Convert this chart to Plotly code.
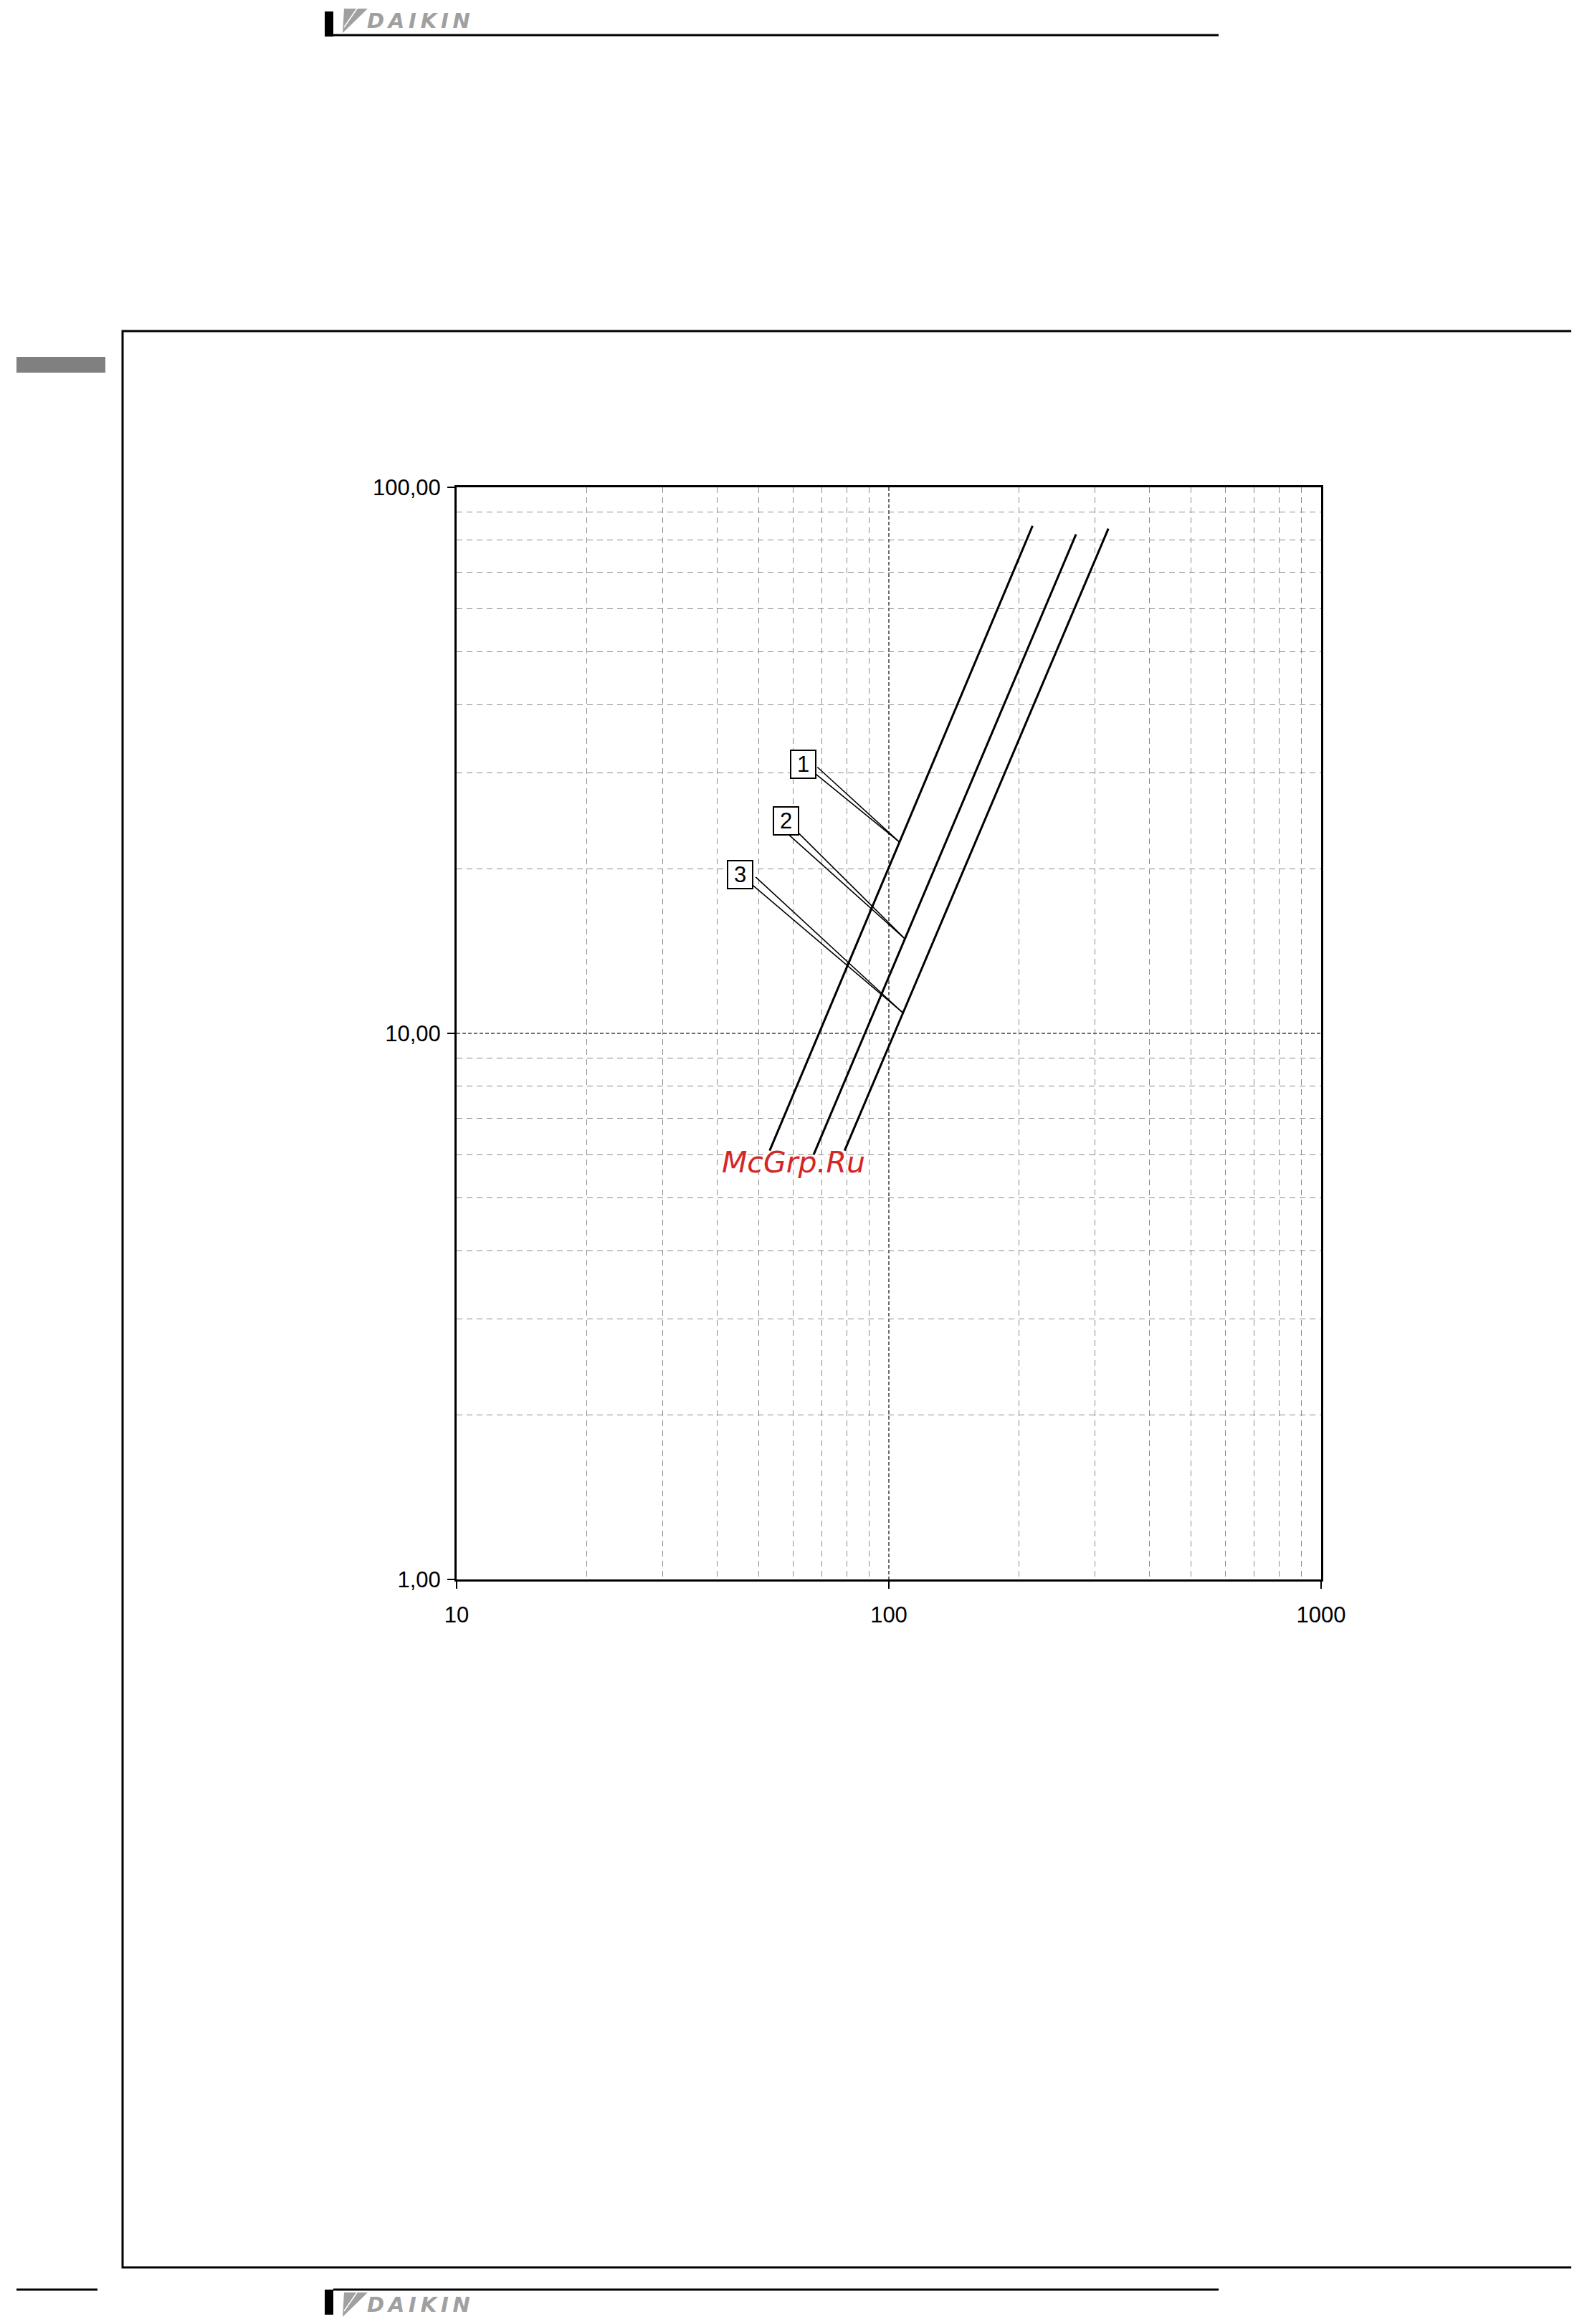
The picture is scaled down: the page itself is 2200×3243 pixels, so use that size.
import numpy as np
import plotly.graph_objects as go

# ---------------- data ----------------
series_names = ["1", "2", "3"]
flow_1 = [53, 215]
dp_1 = [6.1, 85]
flow_2 = [67, 271]
dp_2 = [6.0, 82]
flow_3 = [79, 322]
dp_3 = [6.1, 84]
label_dp = [22.4, 14.9, 10.9]          # where each callout touches its line

x_tick_vals = [10, 100, 1000]
x_tick_text = ["10", "100", "1000"]
y_tick_vals = [1, 10, 100]
y_tick_text = ["1,00", "10,00", "100,00"]
x_minor_vals = [2, 3, 4, 5, 6, 7, 8, 9] + [m * 10 for m in range(2, 10)] + [m * 100 for m in range(2, 10)]
y_minor_vals = [2, 3, 4, 5, 6, 7, 8, 9] + [m * 10 for m in range(2, 10)]

watermark = "McGrp.Ru"
brand = "DAIKIN"

# ---------------- page geometry ----------------
W, H = 2200, 3243
OFF = 8  # page body margin of the html document


def fx(p):
    return (p - OFF) / W


def fy(p):
    return 1 - (p - OFF) / H


X0, X1 = 637, 1843
Y0, Y1 = 680, 2204

fig = go.Figure()
flows = [flow_1, flow_2, flow_3]
dps = [dp_1, dp_2, dp_3]
for name, fl, dp in zip(series_names, flows, dps):
    fig.add_trace(go.Scatter(x=fl, y=dp, mode="lines", name=name,
                             line=dict(color="black", width=3), showlegend=False,
                             hoverinfo="skip"))

axis_font = dict(family="Liberation Sans, Arial", size=31, color="black")

fig.update_xaxes(type="log", range=[1, 3], domain=[fx(X0), fx(X1)], automargin=False,
                 showline=True, linecolor="black", linewidth=3, mirror=True,
                 ticks="outside", ticklen=10, tickwidth=2, tickcolor="black",
                 tickvals=x_tick_vals, ticktext=x_tick_text, tickfont=axis_font,
                 ticklabelstandoff=10,
                 showgrid=True, gridcolor="#6e6e6e", gridwidth=1.5, griddash="5px,3px",
                 zeroline=False,
                 minor=dict(tickvals=x_minor_vals, showgrid=True, gridcolor="#8a8a8a",
                            gridwidth=1.2, griddash="8px,6px", ticks=""))
fig.update_yaxes(type="log", range=[0, 2], domain=[fy(Y1), fy(Y0)], automargin=False,
                 showline=True, linecolor="black", linewidth=3, mirror=True,
                 ticks="outside", ticklen=10, tickwidth=2, tickcolor="black",
                 tickvals=y_tick_vals, ticktext=y_tick_text, tickfont=axis_font,
                 ticklabelstandoff=3,
                 showgrid=True, gridcolor="#6e6e6e", gridwidth=1.5, griddash="5px,3px",
                 zeroline=False,
                 minor=dict(tickvals=y_minor_vals, showgrid=True, gridcolor="#8a8a8a",
                            gridwidth=1.2, griddash="8px,6px", ticks=""))

# ---------------- callouts ----------------
box_offsets = [(-134, -109), (-166, -165), (-227, -193)]
second_offsets = [(-116, -106), (-164, -147), (-207, -191)]
annotations = []
for name, fl, dp, ly, (ax, ay), (ax2, ay2) in zip(series_names, flows, dps, label_dp,
                                                   box_offsets, second_offsets):
    lx = np.interp(np.log10(ly), np.log10(dp), np.log10(fl))
    lyl = np.log10(ly)
    annotations.append(dict(x=lx, y=lyl, xref="x", yref="y", text=name,
                            showarrow=True, arrowhead=0, arrowwidth=1.6, arrowcolor="black",
                            ax=ax, ay=ay, font=dict(family="Liberation Sans, Arial", size=31, color="black"),
                            bordercolor="black", borderwidth=2, borderpad=0, bgcolor="white",
                            width=33, height=37))
    annotations.append(dict(x=lx, y=lyl, xref="x", yref="y", text="",
                            showarrow=True, arrowhead=0, arrowwidth=1.6, arrowcolor="black",
                            ax=ax2, ay=ay2))

# watermark
annotations.append(dict(x=fx(1107), y=fy(1622), xref="paper", yref="paper", text=watermark,
                        showarrow=False, xanchor="center", yanchor="middle",
                        font=dict(family="DejaVu Sans", size=41, color="#d42626", style="italic")))

# brand texts (header and footer)
brand_spaced = "\u2009".join(brand)
for cy in (29, 3216):
    annotations.append(dict(x=fx(510), y=fy(cy), xref="paper", yref="paper",
                            text="<b>" + brand_spaced + "</b>",
                            showarrow=False, xanchor="left", yanchor="middle",
                            font=dict(family="DejaVu Sans", size=29, color="#a0a0a0",
                                      weight="bold", style="italic")))

# ---------------- page decorations ----------------
shapes = []


def rect(x0, y0, x1, y1, **kw):
    shapes.append(dict(type="rect", xref="paper", yref="paper",
                       x0=fx(x0), x1=fx(x1), y0=fy(y0), y1=fy(y1), **kw))


def hline(x0, x1, y, w=3, color="black"):
    shapes.append(dict(type="line", xref="paper", yref="paper",
                       x0=fx(x0), x1=fx(x1), y0=fy(y), y1=fy(y),
                       line=dict(color=color, width=w)))


def path(pts, fill):
    d = "M " + " L ".join(f"{fx(a):.6f},{fy(b):.6f}" for a, b in pts) + " Z"
    shapes.append(dict(type="path", xref="paper", yref="paper", path=d,
                       fillcolor=fill, line=dict(width=0)))


# grey tab at left
rect(23, 498, 147, 520, fillcolor="#808080", line=dict(width=0))
# big frame
rect(171, 462, 2197, 3164, line=dict(color="black", width=3), fillcolor="rgba(0,0,0,0)", layer="below")
# header
rect(453, 16, 465, 51, fillcolor="black", line=dict(width=0))
hline(465, 1700, 49)
path([(480, 12), (513, 12), (478, 46)], "#a0a0a0")
shapes.append(dict(type="line", xref="paper", yref="paper", x0=fx(498), y0=fy(12), x1=fx(480), y1=fy(38),
                   line=dict(color="white", width=1.5)))
# footer
hline(23, 136, 3195)
hline(465, 1700, 3195)
rect(453, 3195, 465, 3230, fillcolor="black", line=dict(width=0))
path([(480, 3199), (513, 3199), (478, 3233)], "#a0a0a0")
shapes.append(dict(type="line", xref="paper", yref="paper", x0=fx(498), y0=fy(3199), x1=fx(480), y1=fy(3225),
                   line=dict(color="white", width=1.5)))

fig.update_layout(width=W, height=H,
                  margin=dict(l=0, r=0, t=0, b=0, pad=0, autoexpand=False),
                  paper_bgcolor="white", plot_bgcolor="white",
                  showlegend=False, annotations=annotations, shapes=shapes)

fig.write_html("out.html")
